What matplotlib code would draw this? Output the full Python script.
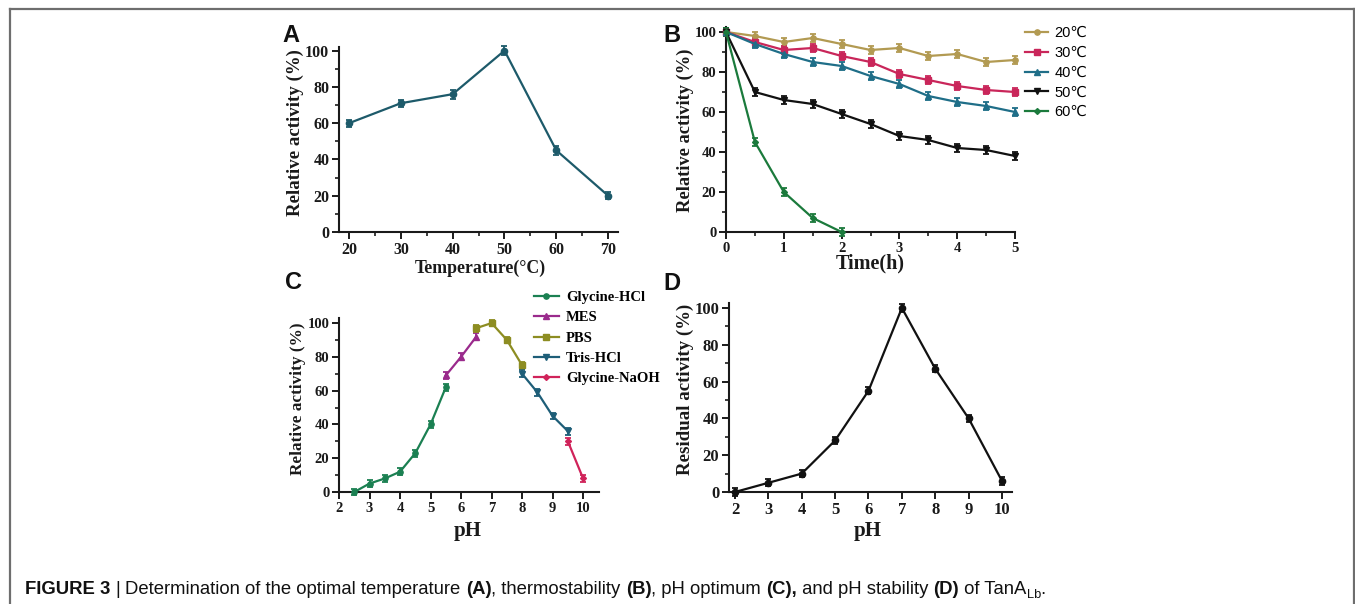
import matplotlib
matplotlib.use("Agg")
import matplotlib.pyplot as plt
from matplotlib.ticker import MultipleLocator
from matplotlib.lines import Line2D

# ---------------- data ----------------
temp_A = [20, 30, 40, 50, 60, 70]
act_A = [60, 71, 76, 100, 45, 20]
err_A = [2, 2, 2.5, 2.5, 2.5, 2]

time_B = [0, 0.5, 1, 1.5, 2, 2.5, 3, 3.5, 4, 4.5, 5]
b20 = [100, 98, 95, 97, 94, 91, 92, 88, 89, 85, 86]
b30 = [100, 95, 91, 92, 88, 85, 79, 76, 73, 71, 70]
b40 = [100, 94, 89, 85, 83, 78, 74, 68, 65, 63, 60]
b50 = [100, 70, 66, 64, 59, 54, 48, 46, 42, 41, 38]
time_B60 = [0, 0.5, 1, 1.5, 2]
b60 = [100, 45, 20, 7, 0]
err_B = 2
labels_B = ["20℃", "30℃", "40℃", "50℃", "60℃"]

ph_gly = [2.5, 3, 3.5, 4, 4.5, 5, 5.5]
act_gly = [0, 5, 8, 12, 23, 40, 62]
ph_mes = [5.5, 6, 6.5]
act_mes = [69, 80, 92]
ph_pbs = [6.5, 7, 7.5, 8]
act_pbs = [97, 100, 90, 75]
ph_tris = [8, 8.5, 9, 9.5]
act_tris = [70, 59, 45, 36]
ph_gnaoh = [9.5, 10]
act_gnaoh = [30, 8]
err_C = 2
labels_C = ["Glycine-HCl", "MES", "PBS", "Tris-HCl", "Glycine-NaOH"]

ph_D = [2, 3, 4, 5, 6, 7, 8, 9, 10]
act_D = [0, 5, 10, 28, 55, 100, 67, 40, 6]
err_D = 2

# ---------------- figure ----------------
W, H = 1355, 604
fig = plt.figure(figsize=(W / 100, H / 100), dpi=100)
SERIF = "Liberation Serif"
SANS = "Liberation Sans"


def box(l, r, b, t):
    return [l / W, 1 - b / H, (r - l) / W, (b - t) / H]


def style(ax, fs):
    for s in ("top", "right"):
        ax.spines[s].set_visible(False)
    for s in ("left", "bottom"):
        ax.spines[s].set_linewidth(1.5)
        ax.spines[s].set_color("#1a1a1a")
    ax.tick_params(which="major", direction="out", length=5, width=1.4,
                   labelsize=fs, pad=2, colors="#1a1a1a")
    ax.tick_params(which="minor", direction="out", length=3, width=1.2,
                   colors="#1a1a1a")
    for lab in ax.get_xticklabels() + ax.get_yticklabels():
        lab.set_fontfamily(SERIF)
        lab.set_fontweight("bold")


def eplot(ax, x, y, e, color, marker, ms=4.5, label=None):
    return ax.errorbar(x, y, yerr=e, color=color, marker=marker, ms=ms,
                       lw=1.6, elinewidth=1.3, capsize=2.5, capthick=1.3,
                       clip_on=False, zorder=3, label=label)


# ---- Panel A ----
axA = fig.add_axes(box(339, 618, 232, 47))
eplot(axA, temp_A, act_A, err_A, "#1d5a6a", "o")
axA.set_xlim(18.07, 71.9)
axA.set_ylim(0, 102)
axA.set_xticks([20, 30, 40, 50, 60, 70])
axA.set_yticks([0, 20, 40, 60, 80, 100])
axA.xaxis.set_minor_locator(MultipleLocator(5))
axA.yaxis.set_minor_locator(MultipleLocator(10))
style(axA, 11.5)

# ---- Panel B ----
axB = fig.add_axes(box(726, 1015, 232, 27))
colsB = ["#b29a52", "#c9265a", "#1f6e88", "#111111", "#1b7a3c"]
marksB = ["o", "s", "^", "v", "D"]
handlesB = []
for ys, c, m in zip([b20, b30, b40, b50], colsB[:4], marksB[:4]):
    cont = eplot(axB, time_B, ys, err_B, c, m, ms=3.8)
    handlesB.append(cont.lines[0])
cont = eplot(axB, time_B60, b60, err_B, colsB[4], marksB[4], ms=3)
handlesB.append(cont.lines[0])
axB.set_xlim(0, 5)
axB.set_ylim(0, 102.5)
axB.set_xticks([0, 1, 2, 3, 4, 5])
axB.set_yticks([0, 20, 40, 60, 80, 100])
axB.xaxis.set_minor_locator(MultipleLocator(0.5))
axB.yaxis.set_minor_locator(MultipleLocator(10))
style(axB, 10.5)
axB.legend(handlesB, labels_B, loc="upper left",
           bbox_to_anchor=(1025 / W, 1 - 26 / H),
           bbox_transform=fig.transFigure, frameon=False,
           handlelength=1.6, handletextpad=0.4, labelspacing=0.4,
           borderpad=0, borderaxespad=0,
           prop={"family": [SANS, "DejaVu Sans"], "size": 10.5})

# ---- Panel C ----
axC = fig.add_axes(box(339, 599, 492, 318))
colsC = ["#1b8052", "#9a2a8c", "#8d8d22", "#1e5e78", "#d0235a"]
marksC = ["o", "^", "s", "v", "D"]
handlesC = []
for xs, ys, c, m in zip([ph_gly, ph_mes, ph_pbs, ph_tris, ph_gnaoh],
                        [act_gly, act_mes, act_pbs, act_tris, act_gnaoh],
                        colsC, marksC):
    cont = eplot(axC, xs, ys, err_C, c, m, ms=3.8 if m != "D" else 3)
    handlesC.append(cont.lines[0])
axC.set_xlim(2, 10.52)
axC.set_ylim(0, 103)
axC.set_xticks(list(range(2, 11)))
axC.set_yticks([0, 20, 40, 60, 80, 100])
axC.yaxis.set_minor_locator(MultipleLocator(10))
style(axC, 10.5)
axC.legend(handlesC, labels_C, loc="upper left",
           bbox_to_anchor=(534 / W, 1 - 291 / H),
           bbox_transform=fig.transFigure, frameon=False,
           handlelength=1.7, handletextpad=0.5, labelspacing=0.48,
           borderpad=0, borderaxespad=0,
           prop={"family": SERIF, "weight": "bold", "size": 10.5})

# ---- Panel D ----
axD = fig.add_axes(box(729, 1012, 492, 303))
eplot(axD, ph_D, act_D, err_D, "#111111", "o")
axD.set_xlim(1.82, 10.3)
axD.set_ylim(0, 102.7)
axD.set_xticks(list(range(2, 11)))
axD.set_yticks([0, 20, 40, 60, 80, 100])
axD.yaxis.set_minor_locator(MultipleLocator(10))
style(axD, 12)

# ---- axis labels ----
lab_kw = dict(family=SERIF, weight="bold", color="#1a1a1a")
fig.text(295 / W, 1 - 133 / H, "Relative activity (%)", rotation=90,
         ha="center", va="center", size=13.6, **lab_kw)
fig.text(480 / W, 1 - 268 / H, "Temperature(°C)", ha="center", va="center",
         size=12.8, **lab_kw)
fig.text(685 / W, 1 - 130 / H, "Relative activity (%)", rotation=90,
         ha="center", va="center", size=13.3, **lab_kw)
fig.text(870 / W, 1 - 263 / H, "Time(h)", ha="center", va="center",
         size=14.5, **lab_kw)
fig.text(298 / W, 1 - 399 / H, "Relative activity (%)", rotation=90,
         ha="center", va="center", size=12.4, **lab_kw)
fig.text(468 / W, 1 - 531 / H, "pH", ha="center", va="center",
         size=15, **lab_kw)
fig.text(685 / W, 1 - 389 / H, "Residual activity (%)", rotation=90,
         ha="center", va="center", size=13.6, **lab_kw)
fig.text(868 / W, 1 - 531 / H, "pH", ha="center", va="center",
         size=15, **lab_kw)

# ---- panel letters ----
for x, y, s in [(291, 36, "A"), (672, 36, "B"), (294, 282, "C"), (672, 283, "D")]:
    fig.text(x / W, 1 - y / H, s, ha="center", va="center", family=SANS,
             weight="bold", size=17, color="#111111")

# ---- frame ----
fcol = "#6e6e6e"
fig.add_artist(Line2D([9.5 / W, 1353.5 / W], [1 - 9 / H, 1 - 9 / H],
                      transform=fig.transFigure, color=fcol, lw=1.6))
fig.add_artist(Line2D([9.5 / W, 9.5 / W], [0, 1 - 9 / H],
                      transform=fig.transFigure, color=fcol, lw=1.6))
fig.add_artist(Line2D([1353.5 / W, 1353.5 / W], [0, 1 - 9 / H],
                      transform=fig.transFigure, color=fcol, lw=1.6))

# ---- caption ----
fig.canvas.draw()
renderer = fig.canvas.get_renderer()
pieces = [("FIGURE 3 ", "bold"), ("| ", "normal"),
          ("Determination of the optimal temperature ", "normal"),
          ("(A)", "bold"), (", thermostability ", "normal"), ("(B)", "bold"),
          (", pH optimum ", "normal"), ("(C),", "bold"),
          (" and pH stability ", "normal"), ("(D)", "bold"),
          (" of TanA", "normal")]
cap_fs = 13.3
x = 25
ybase = 1 - 594 / H
for txt, w in pieces:
    t = fig.text(x / W, ybase, txt, family=SANS, weight=w, size=cap_fs,
                 ha="left", va="baseline", color="#111111")
    bb = t.get_window_extent(renderer)
    x += bb.width
t = fig.text(x / W, ybase - 4 / H, "Lb", family=SANS, size=cap_fs * 0.7,
             ha="left", va="baseline", color="#111111")
x += t.get_window_extent(renderer).width
fig.text(x / W, ybase, ".", family=SANS, size=cap_fs, ha="left",
         va="baseline", color="#111111")

fig.savefig("out.png", dpi=100)
